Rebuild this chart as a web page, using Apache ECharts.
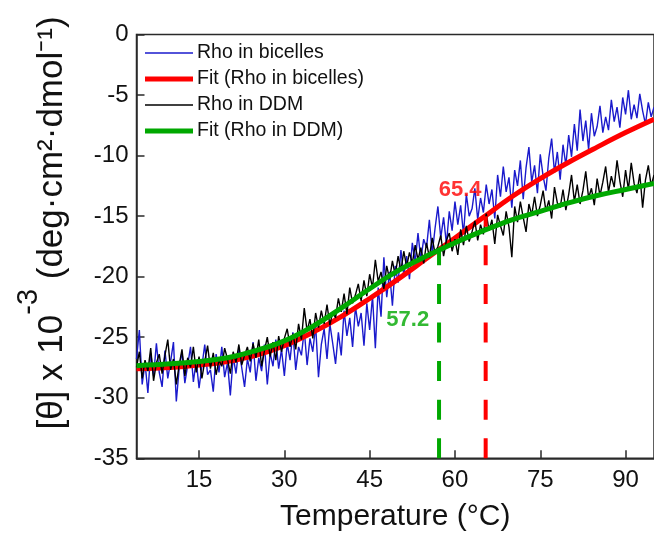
<!DOCTYPE html>
<html>
<head>
<meta charset="utf-8">
<script src="https://cdn.jsdelivr.net/npm/echarts@6/dist/echarts.min.js"></script>
<style>
  html, body { margin: 0; padding: 0; background: #fff; }
  #chart { width: 654px; height: 538px; }
</style>
</head>
<body>
<div id="chart"></div>
<script>
// ---- data ----
var tStart = 4;      // first temperature (°C)
var tStep = 0.5;     // temperature step of the raw traces (°C)

var bicelles = [
  -26.8, -24.4, -28.9, -27.1, -29.6, -26.3, -28.2, -25.5, -27.9, -29.1,
  -26.1, -28.4, -27.0, -25.4, -30.3, -27.6, -26.2, -28.8, -27.3, -25.8,
  -28.7, -26.9, -29.2, -27.4, -25.6, -28.1, -27.7, -29.5, -26.4, -27.9,
  -25.8, -28.3, -27.1, -29.8, -26.6, -28.0, -25.9, -27.5, -29.1, -26.8,
  -27.9, -25.4, -28.6, -26.7, -27.8, -25.6, -28.9, -26.3, -27.4, -25.2,
  -27.6, -26.0, -28.2, -25.5, -26.9, -24.6, -27.7, -25.8, -26.5, -24.4,
  -27.3, -25.1, -26.2, -24.0, -28.3, -25.6, -24.3, -26.8, -23.9, -25.5,
  -27.2, -24.6, -26.5, -22.8, -24.9, -23.4, -25.8, -22.5, -24.1, -23.0,
  -25.7, -22.2, -24.4, -21.6, -25.9, -20.9, -23.3, -18.4, -21.7, -19.6,
  -22.4, -19.1, -20.5, -17.8, -19.9, -18.3, -20.2, -17.2, -18.8, -16.4,
  -18.6, -16.9, -17.6, -15.3, -18.1, -16.0, -14.2, -16.8, -15.1, -17.3,
  -14.6, -16.2, -13.8, -15.7, -14.1, -16.5, -13.2, -15.0, -14.4, -12.7,
  -15.3, -13.5, -14.7, -12.4, -14.0, -12.8, -15.2, -11.6, -13.4, -10.9,
  -13.0, -11.8, -14.3, -11.2, -12.5, -10.4, -13.6, -11.0, -9.3, -12.2,
  -10.8, -13.1, -9.9, -11.7, -12.9, -10.2, -8.6, -11.4, -9.7, -12.0,
  -9.1, -10.8, -8.3, -10.1, -7.4, -9.6, -6.2, -8.8, -7.1, -9.5,
  -6.5, -8.4, -7.6, -5.9, -8.1, -6.8, -7.9, -5.4, -7.2, -6.0,
  -7.7, -5.2, -6.6, -4.6, -7.0, -5.8, -6.9, -4.9, -6.3, -7.4,
  -5.6, -6.8, -6.0
];

var ddm = [
  -27.5, -26.2, -28.4, -26.9, -27.8, -25.9, -28.6, -27.1, -26.4, -28.0,
  -26.5, -25.2, -27.7, -26.8, -28.9, -27.3, -26.0, -28.2, -26.7, -27.5,
  -25.8, -27.9, -26.6, -28.4, -27.0, -25.7, -27.6, -26.3, -28.1, -26.9,
  -27.4, -25.9, -26.8, -28.0, -26.2, -27.1, -25.6, -27.3, -26.5, -25.8,
  -27.0, -25.5, -26.7, -25.2, -27.4, -26.1, -25.0, -26.6, -25.4, -26.9,
  -24.9, -26.2, -25.1, -24.3, -25.8, -24.7, -26.0, -23.9, -25.2, -22.6,
  -24.5, -23.5, -25.1, -23.0, -24.2, -22.8, -23.9, -22.3, -24.0, -22.9,
  -23.4, -21.8, -22.9, -21.4, -23.1, -20.9, -22.2, -21.5, -20.6, -22.0,
  -20.3, -21.6, -19.8, -20.9, -18.6, -20.4, -19.6, -21.0, -19.1, -20.2,
  -18.7, -19.9, -18.3, -19.5, -17.9, -19.2, -18.0, -18.9, -17.4, -18.6,
  -17.6, -18.9, -17.2, -18.4, -16.8, -18.1, -17.5, -16.6, -18.3, -17.0,
  -16.4, -17.9, -16.9, -18.2, -16.1, -17.4, -15.8, -17.1, -16.3, -15.4,
  -17.0, -15.7, -16.5, -14.8, -16.2, -15.3, -17.3, -14.9, -15.8, -16.6,
  -14.6, -15.9, -18.4, -14.2, -15.5, -13.8, -15.1, -16.3, -14.0, -14.9,
  -13.4, -15.0, -14.1, -12.9, -14.6, -13.7, -15.2, -12.6, -13.9, -14.3,
  -12.8, -14.5, -13.2, -11.6, -13.8, -12.4, -14.0, -12.9, -11.3, -13.5,
  -12.7, -14.1, -11.9, -13.3, -12.2, -10.9, -13.0, -11.7, -12.6, -10.4,
  -12.1, -13.4, -11.2, -12.8, -10.6, -12.3, -13.1, -11.5, -14.3, -12.0,
  -10.8, -12.5, -11.6
];

var fitT = [4, 10, 15, 20, 25, 30, 35, 40, 45, 50, 55, 60, 65, 70, 75, 80, 85, 90, 95];
var fitBicelles = [-27.6, -27.5, -27.3, -27.0, -26.5, -25.7, -24.6, -23.3, -21.8, -20.2, -18.5, -16.8, -15.1, -13.4, -11.9, -10.55, -9.3, -8.1, -7.0];
var fitDDM = [-27.35, -27.2, -27.0, -26.7, -26.1, -25.3, -24.1, -22.6, -21.0, -19.5, -18.3, -17.2, -16.2, -15.3, -14.6, -13.9, -13.3, -12.8, -12.3];

var tmBicelles = 65.4, tmBicellesY = -15.0;
var tmDDM = 57.2, tmDDMY = -17.8;

var xTicks = [15, 30, 45, 60, 75, 90];
var xMin = 4, xMax = 95;
var yMin = -35, yMax = 0, yStep = 5;

var seriesNames = ['Rho in bicelles', 'Fit (Rho in bicelles)', 'Rho in DDM', 'Fit (Rho in DDM)'];
var yTitle = '{a|[θ] x 10}{b|-3}{a| (deg·cm²·dmol⁻¹)}';
var xTitle = 'Temperature (°C)';

// ---- build ----
function raw(arr) {
  return arr.map(function (v, i) { return [tStart + i * tStep, v]; });
}
function pairs(xs, ys) {
  return xs.map(function (x, i) { return [x, ys[i]]; });
}

var FONT = '"Liberation Sans", Arial, sans-serif';
var AX = '#2a2a2a';
var BLUE = '#1a1acc', RED = '#ff0000', BLACK = '#000000', GREEN = '#00a800';

var chart = echarts.init(document.getElementById('chart'), null, { renderer: 'canvas' });

var option = {
  animation: false,
  backgroundColor: '#ffffff',
  textStyle: { fontFamily: FONT },
  grid: {
    left: 136.5, top: 34.5, width: 519.8, height: 423.8,
    show: true, borderColor: AX, borderWidth: 1.5, backgroundColor: 'transparent'
  },
  legend: {
    orient: 'vertical',
    left: 140, top: 38,
    itemWidth: 48, itemHeight: 19, itemGap: 6,
    textStyle: { fontSize: 19.5, color: '#111', fontFamily: FONT, padding: [0, 0, 0, -1] },
    data: [
      { name: seriesNames[0], icon: 'path://M0,0h48v1.4h-48z' },
      { name: seriesNames[1], icon: 'path://M0,0h48v5h-48z' },
      { name: seriesNames[2], icon: 'path://M0,0h48v1.4h-48z' },
      { name: seriesNames[3], icon: 'path://M0,0h48v5h-48z' }
    ]
  },
  graphic: [
    {
      type: 'text', x: 42, y: 223, rotation: Math.PI / 2, silent: true,
      style: {
        text: yTitle, align: 'center', verticalAlign: 'middle', fill: '#111',
        font: '35px ' + FONT,
        rich: {
          a: { fontSize: 35, fontFamily: FONT, fill: '#111', padding: [20, 0, 0, 0], verticalAlign: 'bottom' },
          b: { fontSize: 29, fontFamily: FONT, fill: '#111', verticalAlign: 'top' }
        }
      }
    }
  ],
  xAxis: {
    type: 'value', min: xMin, max: xMax, position: 'bottom',
    name: xTitle, nameLocation: 'middle', nameGap: 43,
    nameTextStyle: { fontSize: 30, color: '#111', fontFamily: FONT },
    axisLine: { show: true, onZero: false, lineStyle: { color: AX, width: 1.5 } },
    axisTick: { show: true, inside: true, length: 8, customValues: xTicks, lineStyle: { color: AX, width: 1.5 } },
    axisLabel: { customValues: xTicks, fontSize: 24, color: '#111', margin: 10, fontFamily: FONT },
    splitLine: { show: false }
  },
  yAxis: {
    type: 'value', min: yMin, max: yMax, interval: yStep, position: 'left',
    axisLine: { show: true, onZero: false, lineStyle: { color: AX, width: 1.5 } },
    axisTick: { show: true, inside: true, length: 8, lineStyle: { color: AX, width: 1.5 } },
    axisLabel: { fontSize: 24, color: '#111', margin: 8, fontFamily: FONT },
    splitLine: { show: false }
  },
  series: [
    {
      name: seriesNames[0], type: 'line', data: raw(bicelles),
      symbol: 'none', lineStyle: { color: BLUE, width: 1.4 }, itemStyle: { color: BLUE },
      clip: true, z: 2
    },
    {
      name: seriesNames[1], type: 'line', data: pairs(fitT, fitBicelles), smooth: 0.4,
      symbol: 'none', lineStyle: { color: RED, width: 5 }, itemStyle: { color: RED },
      clip: true, z: 3
    },
    {
      name: seriesNames[2], type: 'line', data: raw(ddm),
      symbol: 'none', lineStyle: { color: BLACK, width: 1.4 }, itemStyle: { color: BLACK },
      clip: true, z: 4
    },
    {
      name: seriesNames[3], type: 'line', data: pairs(fitT, fitDDM), smooth: 0.4,
      symbol: 'none', lineStyle: { color: GREEN, width: 5 }, itemStyle: { color: GREEN },
      clip: true, z: 5
    },
    {
      name: 'tm-bicelles', type: 'line', data: [[tmBicelles, yMin], [tmBicelles, tmBicellesY]],
      symbol: 'none', lineStyle: { color: RED, width: 4, type: [20, 18.6] }, z: 6, silent: true
    },
    {
      name: 'tm-ddm', type: 'line', data: [[tmDDM, yMin], [tmDDM, tmDDMY]],
      symbol: 'none', lineStyle: { color: GREEN, width: 4, type: [20, 18.6] }, z: 6, silent: true
    },
    {
      name: 'labels', type: 'scatter', symbolSize: 1, itemStyle: { color: 'transparent' }, z: 7, silent: true,
      data: [
        { value: [60.9, -12.8], label: { formatter: String(tmBicelles), color: RED } },
        { value: [51.7, -23.6], label: { formatter: String(tmDDM), color: GREEN } }
      ],
      label: { show: true, position: 'inside', fontSize: 22, fontWeight: 'bold', fontFamily: FONT }
    }
  ]
};
chart.setOption(option);
</script>
</body>
</html>
